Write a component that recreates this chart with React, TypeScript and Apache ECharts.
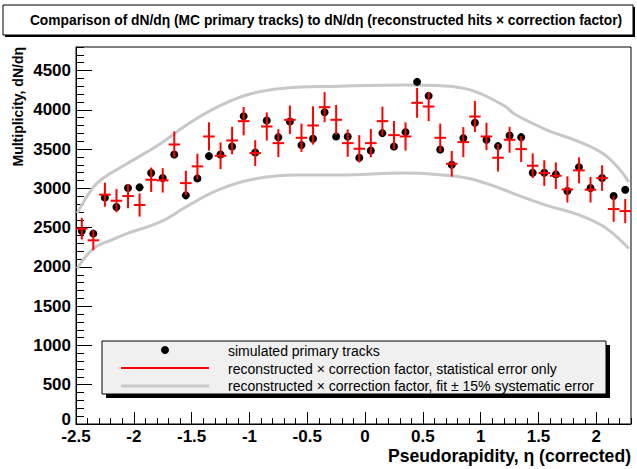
import React, { useEffect, useRef } from "react";
import * as echarts from "echarts";

// Bin centres (pseudorapidity)
const etaBins = [
  -2.45, -2.35, -2.25, -2.15, -2.05, -1.95, -1.85, -1.75, -1.65, -1.55,
  -1.45, -1.35, -1.25, -1.15, -1.05, -0.95, -0.85, -0.75, -0.65, -0.55,
  -0.45, -0.35, -0.25, -0.15, -0.05, 0.05, 0.15, 0.25, 0.35, 0.45,
  0.55, 0.65, 0.75, 0.85, 0.95, 1.05, 1.15, 1.25, 1.35, 1.45,
  1.55, 1.65, 1.75, 1.85, 1.95, 2.05, 2.15, 2.25,
];

// MC primary tracks (black dots)
const simulated = [
  2457, 2424, 2882, 2763, 3004, 3013, 3195, 3131, 3432, 2911,
  3127, 3411, 3432, 3534, 3919, 3457, 3864, 3652, 3851, 3551,
  3631, 3970, 3661, 3661, 3390, 3483, 3703, 3534, 3716, 4356,
  4178, 3496, 3301, 3640, 3835, 3619, 3538, 3674, 3652, 3199,
  3199, 3178, 2966, 3271, 3004, 3131, 2902, 2983,
];

// reconstructed x correction factor (red crosses)
const reconstructed = [
  2487, 2339, 2920, 2843, 2902, 2788, 3110, 3102, 3559, 3067,
  3280, 3661, 3415, 3610, 3856, 3449, 3788, 3576, 3873, 3644,
  3801, 4034, 3873, 3576, 3504, 3576, 3856, 3678, 3661, 4089,
  4042, 3644, 3314, 3589, 3915, 3661, 3390, 3619, 3500, 3288,
  3195, 3161, 2987, 3229, 2983, 3131, 2737, 2711,
];

// statistical errors of the reconstructed values
const statErrors = [
  138, 127, 153, 148, 155, 148, 155, 155, 165, 157,
  161, 180, 170, 174, 180, 165, 178, 178, 182, 180,
  244, 191, 189, 174, 174, 180, 184, 180, 180, 191,
  186, 180, 163, 191, 197, 174, 176, 165, 165, 157,
  163, 170, 167, 165, 163, 163, 163, 153,
];

// Fit +15% band (upper) and -15% band (lower)
const upperEta = [-2.49, -2.35, -2.26, -2.06, -1.77, -1.55, -1.28, -0.99, -0.7, -0.22, 0.34, 0.62, 0.91, 1.2, 1.3, 1.57, 1.86, 2.06, 2.21, 2.28];
const upperVal = [2686, 3016, 3136, 3314, 3568, 3801, 4034, 4204, 4275, 4301, 4317, 4309, 4254, 4055, 3940, 3746, 3589, 3441, 3229, 3080];
const lowerEta = [-2.49, -2.35, -2.2, -2.06, -1.77, -1.55, -1.28, -0.99, -0.6, -0.22, 0.34, 0.62, 0.91, 1.2, 1.3, 1.57, 1.86, 2.06, 2.21, 2.28];
const lowerVal = [1979, 2233, 2339, 2424, 2572, 2763, 2974, 3110, 3169, 3169, 3195, 3178, 3123, 2983, 2924, 2784, 2657, 2517, 2339, 2233];

const title = "Comparison of dN/d\u03b7 (MC primary tracks) to dN/d\u03b7 (reconstructed hits \u00d7 correction factor)";
const legendLabels = [
  "simulated primary tracks",
  "reconstructed \u00d7 correction factor, statistical error only",
  "reconstructed \u00d7 correction factor, fit \u00b1 15% systematic error",
];
const xTitle = "Pseudorapidity, \u03b7 (corrected)";
const yTitle = "Multiplicity, dN/d\u03b7";

const FONT = "'Liberation Sans', Arial, Helvetica, sans-serif";
const GRAY = "#c8c8c8";
const RED = "#ff0000";

export default function App() {
  const ref = useRef<HTMLDivElement>(null);
  useEffect(() => {
    if (!ref.current) return;
    const chart = echarts.init(ref.current, null, { renderer: "svg" });
    const labelStyle = {
      fontFamily: FONT,
      fontWeight: "bold" as const,
      fontSize: 17,
      color: "#000",
    };
    const option: any = {
      animation: false,
      backgroundColor: "#fff",
      grid: {
        left: 76,
        right: 6,
        top: 47,
        bottom: 45,
        show: true,
        borderColor: "#000",
        borderWidth: 1,
        backgroundColor: "transparent",
      },
      xAxis: [
        {
          type: "value",
          min: -2.5,
          max: 2.3,
          interval: 0.5,
          axisLine: { show: true, onZero: false, lineStyle: { color: "#000", width: 1 } },
          axisTick: { show: true, inside: true, length: 12, lineStyle: { color: "#000", width: 1 } },
          splitLine: { show: false },
          axisLabel: { ...labelStyle, margin: 4, showMaxLabel: false, formatter: (v: number) => String(v) },
        },
        {
          type: "value",
          position: "bottom",
          min: -2.5,
          max: 2.3,
          interval: 0.1,
          axisLine: { show: false, onZero: false },
          axisTick: { show: true, inside: true, length: 6, lineStyle: { color: "#000", width: 1 } },
          splitLine: { show: false },
          axisLabel: { show: false },
        },
      ],
      yAxis: [
        {
          type: "value",
          min: 0,
          max: 4800,
          interval: 500,
          axisLine: { show: true, onZero: false, lineStyle: { color: "#000", width: 1 } },
          axisTick: { show: true, inside: true, length: 16, lineStyle: { color: "#000", width: 1 } },
          splitLine: { show: false },
          axisLabel: {
            ...labelStyle,
            margin: 5,
            showMaxLabel: false,
            formatter: (v: number) => (v === 0 ? "{z|0}" : String(v)),
            rich: {
              z: { fontFamily: FONT, fontWeight: "bold", fontSize: 17, color: "#000", padding: [0, 0, 10, 0] },
            },
          },
        },
        {
          type: "value",
          position: "left",
          min: 0,
          max: 4800,
          interval: 100,
          axisLine: { show: false, onZero: false },
          axisTick: { show: true, inside: true, length: 8, lineStyle: { color: "#000", width: 1 } },
          splitLine: { show: false },
          axisLabel: { show: false },
        },
      ],
      series: [
        {
          type: "line",
          data: upperEta.map((e, i) => [e, upperVal[i]]),
          smooth: 0.4,
          symbol: "none",
          lineStyle: { color: GRAY, width: 3 },
          z: 1,
        },
        {
          type: "line",
          data: lowerEta.map((e, i) => [e, lowerVal[i]]),
          smooth: 0.4,
          symbol: "none",
          lineStyle: { color: GRAY, width: 3 },
          z: 1,
        },
        {
          type: "scatter",
          data: etaBins.map((e, i) => [e, simulated[i]]),
          symbol: "circle",
          symbolSize: 8,
          itemStyle: { color: "#000", opacity: 1 },
          z: 2,
        },
        {
          type: "custom",
          data: etaBins.map((e, i) => [e, reconstructed[i], statErrors[i]]),
          encode: { x: 0, y: 1 },
          z: 3,
          renderItem: (params: any, api: any) => {
            const x = api.value(0);
            const y = api.value(1);
            const err = api.value(2);
            const top = api.coord([x, y + err]);
            const bot = api.coord([x, y - err]);
            const l = api.coord([x - 0.05, y]);
            const r = api.coord([x + 0.05, y]);
            return {
              type: "group",
              children: [
                { type: "line", shape: { x1: top[0], y1: top[1], x2: bot[0], y2: bot[1] }, style: { stroke: RED, lineWidth: 2 } },
                { type: "line", shape: { x1: l[0], y1: l[1], x2: r[0], y2: r[1] }, style: { stroke: RED, lineWidth: 2 } },
              ],
            };
          },
        },
      ],
      graphic: [
        // title box
        { type: "rect", shape: { x: 5, y: 7, width: 630, height: 30 }, style: { fill: "#000" }, z: 100 },
        { type: "rect", shape: { x: 3, y: 5, width: 630, height: 30 }, style: { fill: "#fff", stroke: "#000", lineWidth: 1 }, z: 101 },
        {
          type: "text",
          x: 326,
          y: 20,
          style: { text: title, fontFamily: FONT, fontWeight: "bold", fontSize: 13.8, fill: "#000", align: "center", verticalAlign: "middle" },
          z: 102,
        },
        // axis titles
        {
          type: "text",
          x: 18,
          y: 47,
          rotation: Math.PI / 2,
          style: { text: yTitle, fontFamily: FONT, fontWeight: "bold", fontSize: 14, fill: "#000", align: "right", verticalAlign: "middle" },
          z: 102,
        },
        {
          type: "text",
          x: 631,
          y: 456,
          style: { text: xTitle, fontFamily: FONT, fontWeight: "bold", fontSize: 17.6, fill: "#000", align: "right", verticalAlign: "middle" },
          z: 102,
        },
        // legend box
        { type: "rect", shape: { x: 106, y: 345, width: 504, height: 53 }, style: { fill: "#000" }, z: 100 },
        { type: "rect", shape: { x: 102, y: 341, width: 504, height: 53 }, style: { fill: "#f0f0f0", stroke: "#000", lineWidth: 1 }, z: 101 },
        { type: "circle", shape: { cx: 165, cy: 350, r: 4 }, style: { fill: "#000" }, z: 102 },
        { type: "line", shape: { x1: 121, y1: 368, x2: 209, y2: 368 }, style: { stroke: RED, lineWidth: 2 }, z: 102 },
        { type: "line", shape: { x1: 121, y1: 386, x2: 209, y2: 386 }, style: { stroke: GRAY, lineWidth: 3 }, z: 102 },
        ...legendLabels.map((t, i) => ({
          type: "text",
          x: 228,
          y: 351 + i * 17.5,
          style: { text: t, fontFamily: FONT, fontSize: 14, fill: "#000", align: "left", verticalAlign: "middle" },
          z: 102,
        })),
      ],
    };
    chart.setOption(option);
    return () => chart.dispose();
  }, []);
  return (
    <div
      ref={ref}
      style={{ position: "fixed", left: 0, top: 0, width: 637, height: 469, background: "#fff" }}
    />
  );
}
